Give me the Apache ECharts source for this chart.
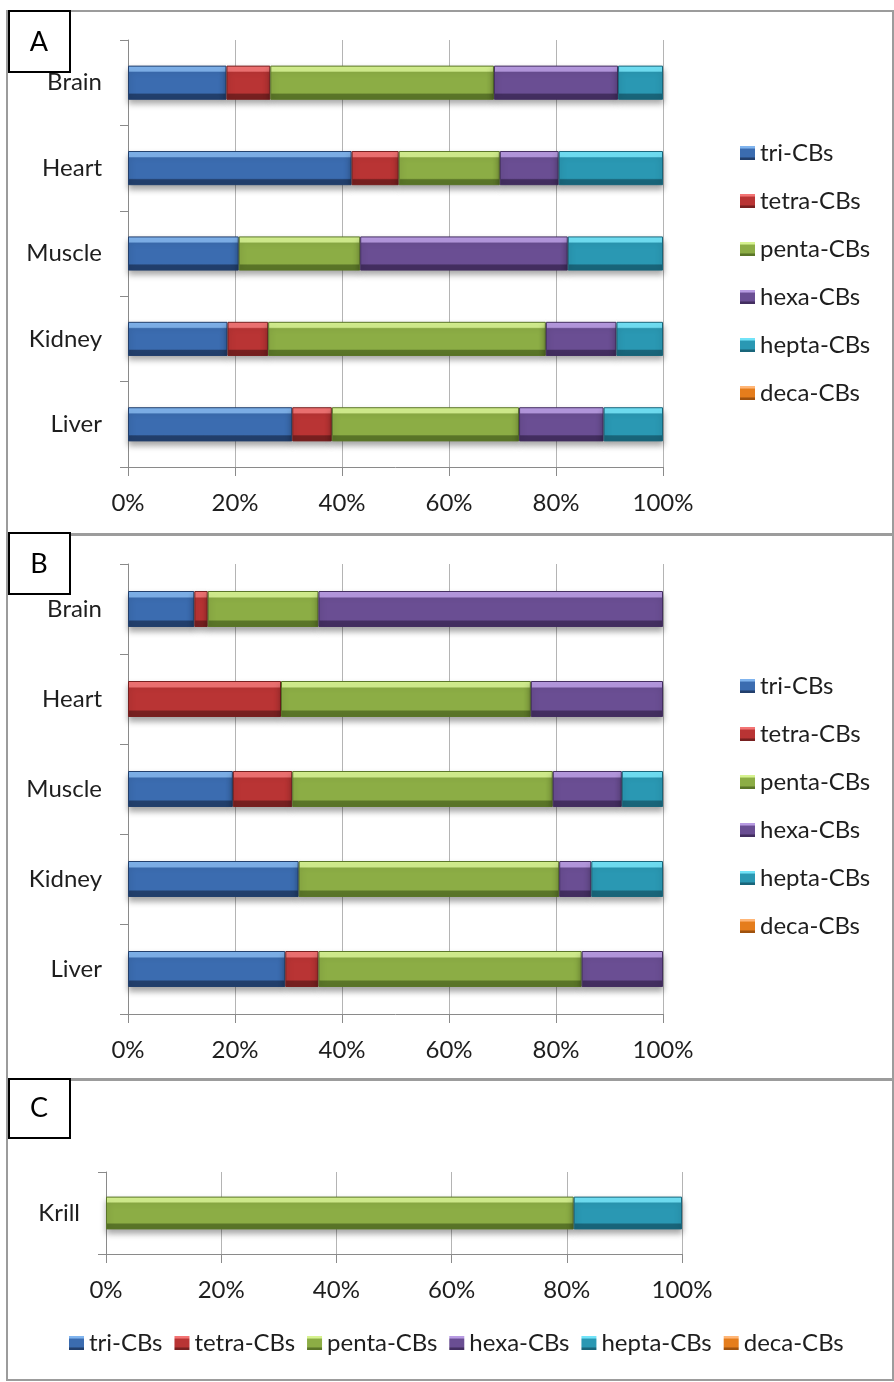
<!DOCTYPE html>
<html>
<head>
<meta charset="utf-8">
<script src="https://cdn.jsdelivr.net/npm/echarts@6/dist/echarts.min.js"></script>
<style>
html,body{margin:0;padding:0;background:#fff;}
#chart{width:894px;height:1382px;}
</style>
</head>
<body>
<div id="chart"></div>
<script>
// ---- data ----
const categoriesAB = ['Brain', 'Heart', 'Muscle', 'Kidney', 'Liver'];
const categoriesC = ['Krill'];
const seriesNames = ['tri-CBs', 'tetra-CBs', 'penta-CBs', 'hexa-CBs', 'hepta-CBs', 'deca-CBs'];
const xTickValues = [0, 20, 40, 60, 80, 100];

// Panel A (%)
const A_tri   = [18.4, 41.8, 20.7, 18.6, 30.7];
const A_tetra = [8.2, 8.8, 0, 7.6, 7.4];
const A_penta = [41.8, 18.9, 22.7, 51.9, 35.0];
const A_hexa  = [23.2, 11.0, 38.8, 13.2, 15.8];
const A_hepta = [8.4, 19.5, 17.8, 8.7, 11.1];
const A_deca  = [0, 0, 0, 0, 0];

// Panel B (%)
const B_tri   = [12.4, 0, 19.6, 31.9, 29.4];
const B_tetra = [2.5, 28.6, 11.1, 0, 6.2];
const B_penta = [20.7, 46.7, 48.7, 48.7, 49.2];
const B_hexa  = [64.4, 24.7, 12.9, 6.0, 15.2];
const B_hepta = [0, 0, 7.7, 13.4, 0];
const B_deca  = [0, 0, 0, 0, 0];

// Panel C (%)
const C_tri   = [0];
const C_tetra = [0];
const C_penta = [81.2];
const C_hexa  = [0];
const C_hepta = [18.8];
const C_deca  = [0];

const panelData = [
  [A_tri, A_tetra, A_penta, A_hexa, A_hepta, A_deca],
  [B_tri, B_tetra, B_penta, B_hexa, B_hepta, B_deca],
  [C_tri, C_tetra, C_penta, C_hexa, C_hepta, C_deca]
];

// ---- styling ----
const FONT = 'Lato';
const FS = 24;
const TXT = '#1e1e1e';
const palette = [
  {light:'#80b4ee', base:'#3b6cb0', dark:'#223f6c'},
  {light:'#f37474', base:'#b93434', dark:'#772020'},
  {light:'#d6f290', base:'#8cad45', dark:'#5a7528'},
  {light:'#b89be2', base:'#6a4e93', dark:'#432e60'},
  {light:'#72e3f8', base:'#2a98b3', dark:'#19657a'},
  {light:'#ffb677', base:'#e57d1c', dark:'#9f520e'}
];
function grad(c){
  return new echarts.graphic.LinearGradient(0,0,0,1,[
    {offset:0, color:c.light},
    {offset:0.16, color:c.light},
    {offset:0.2, color:c.base},
    {offset:0.8, color:c.base},
    {offset:0.84, color:c.dark},
    {offset:1, color:c.dark}
  ]);
}

const grids = [
  {left:128, right:231, top:40, height:427},
  {left:128, right:231, top:564, height:450},
  {left:106, right:212, top:1172, height:82}
];

const xAxes = grids.map((g,i)=>({
  type:'value', gridIndex:i, min:0, max:100, interval:20,
  axisLine:{show:true, lineStyle:{color:'#8a8a8a', width:1}},
  axisTick:{show:true, length:9, lineStyle:{color:'#8a8a8a'}},
  splitLine:{show:true, lineStyle:{color:'#b4b4b4', width:1}},
  axisLabel:{formatter:'{value}%', fontFamily:FONT, fontSize:FS, color:TXT, margin:24}
}));
const yAxes = grids.map((g,i)=>({
  type:'category', gridIndex:i, inverse:true,
  data: i<2 ? categoriesAB : categoriesC,
  axisLine:{show:true, lineStyle:{color:'#8a8a8a', width:1}},
  axisTick:{show:true, length:8, lineStyle:{color:'#8a8a8a'}},
  axisLabel:{fontFamily:FONT, fontSize:FS, color:TXT, margin:26}
}));

const series = [];
panelData.forEach((arrs, p)=>{
  arrs.forEach((arr, s)=>{
    series.push({
      type:'bar', name:seriesNames[s], stack:'p'+p,
      xAxisIndex:p, yAxisIndex:p, barWidth:'40%',
      data: arr.map(v => v === 0 ? null : v),
      itemStyle:{
        color:grad(palette[s]),
        borderColor:palette[s].dark, borderWidth:1,
        shadowColor:'rgba(0,0,0,0.35)', shadowBlur:6, shadowOffsetY:4
      },
      emphasis:{disabled:true}
    });
  });
});

const legendText = {fontFamily:FONT, fontSize:FS, color:TXT};
const legends = [
  {orient:'vertical', left:735, top:136, itemGap:24, itemWidth:15, itemHeight:14,
   data:seriesNames, textStyle:legendText, icon:'rect', itemStyle:{borderWidth:0, shadowBlur:0}},
  {orient:'vertical', left:735, top:669, itemGap:24, itemWidth:15, itemHeight:14,
   data:seriesNames, textStyle:legendText, icon:'rect', itemStyle:{borderWidth:0, shadowBlur:0}},
  {orient:'horizontal', left:64, top:1326, itemGap:12, itemWidth:15, itemHeight:14,
   data:seriesNames, textStyle:legendText, icon:'rect', itemStyle:{borderWidth:0, shadowBlur:0}}
];

const frameStyle = {fill:'none', stroke:'#9c9c9c', lineWidth:2};
const boxStyle = {fill:'#fff', stroke:'#000', lineWidth:2};
const graphic = [
  {type:'rect', z:-10, shape:{x:7, y:11, width:886, height:523}, style:frameStyle},
  {type:'rect', z:-10, shape:{x:7, y:535, width:886, height:544}, style:frameStyle},
  {type:'rect', z:-10, shape:{x:7, y:1080, width:886, height:300}, style:frameStyle},
  {type:'rect', z:10, shape:{x:9, y:11, width:61, height:61}, style:boxStyle},
  {type:'text', z:11, x:39, y:42, style:{text:'A', fontFamily:FONT, fontSize:27, fill:'#000', align:'center', verticalAlign:'middle'}},
  {type:'rect', z:10, shape:{x:9, y:533, width:61, height:61}, style:boxStyle},
  {type:'text', z:11, x:39, y:564, style:{text:'B', fontFamily:FONT, fontSize:27, fill:'#000', align:'center', verticalAlign:'middle'}},
  {type:'rect', z:10, shape:{x:9, y:1079, width:61, height:59}, style:boxStyle},
  {type:'text', z:11, x:39, y:1108, style:{text:'C', fontFamily:FONT, fontSize:27, fill:'#000', align:'center', verticalAlign:'middle'}}
];

const chart = echarts.init(document.getElementById('chart'), null, {renderer:'canvas'});
chart.setOption({
  animation:false,
  backgroundColor:'#fff',
  grid:grids,
  xAxis:xAxes,
  yAxis:yAxes,
  legend:legends,
  series:series,
  graphic:graphic
});
</script>
</body>
</html>
